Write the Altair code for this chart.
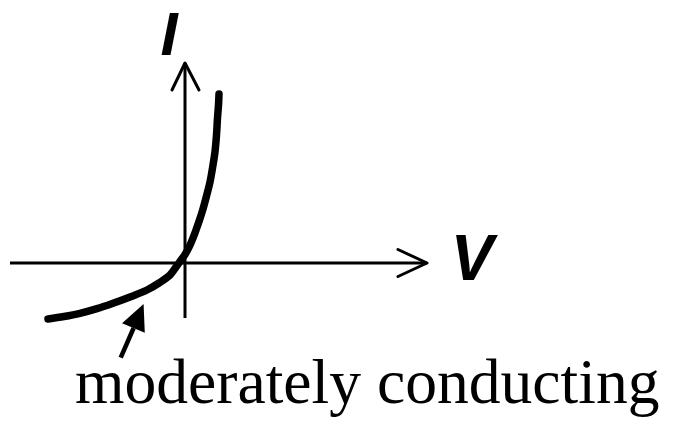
import altair as alt
import pandas as pd

# I-V curve (arbitrary units)
curve_v = [-13.7, -12.1, -10.5, -8.8, -7.2, -5.5, -3.8, -2.6, -1.5, -0.9, -0.4,
           0.0, 0.43, 0.8, 1.1, 1.45, 1.77, 2.15, 2.5, 2.8, 3.0, 3.15, 3.25, 3.35, 3.4]
curve_i = [-5.6, -5.35, -5.03, -4.57, -4.03, -3.4, -2.7, -2.0, -1.2, -0.4, 0.3,
           0.85, 1.63, 2.5, 3.3, 4.3, 5.3, 6.7, 8.1, 9.8, 11.13, 12.8, 14.5, 15.8, 16.9]

# axes extents
h_axis_v = [-17.5, 24.2]
v_axis_i = [-5.5, 20.0]
# arrowheads (chevrons)
h_head_v = [21.3, 24.2, 21.3]
h_head_i = [1.35, 0.0, -1.35]
v_head_v = [-1.3, 0.0, 1.4]
v_head_i = [17.3, 20.0, 17.3]

# annotation arrow
shaft_v = [-6.43, -5.14]
shaft_i = [-9.47, -6.5]
head_v = [-4.65]
head_i = [-5.3]

# labels
i_label = ["I"]
i_label_v = [-1.6]
i_label_i = [20.8]
v_label = ["V"]
v_label_v = [28.7]
v_label_i = [-1.7]
note_text = ["moderately conducting"]
note_v = [-11.0]
note_i = [-14.0]

xs = alt.Scale(domain=[-17.7, 48.0], nice=False, zero=False)
ys = alt.Scale(domain=[-15.5, 24.7], nice=False, zero=False)

def X():
    return alt.X("v:Q", scale=xs, axis=None)

def Y():
    return alt.Y("i:Q", scale=ys, axis=None)

axes_rows = []
for k, v in enumerate(h_axis_v):
    axes_rows.append({"g": "h", "o": k, "v": v, "i": 0.0})
for k, i in enumerate(v_axis_i):
    axes_rows.append({"g": "vv", "o": k, "v": 0.0, "i": i})
axes_df = pd.DataFrame(axes_rows)

heads_rows = []
for k, (v, i) in enumerate(zip(h_head_v, h_head_i)):
    heads_rows.append({"g": "h", "o": k, "v": v, "i": i})
for k, (v, i) in enumerate(zip(v_head_v, v_head_i)):
    heads_rows.append({"g": "vv", "o": k, "v": v, "i": i})
heads_df = pd.DataFrame(heads_rows)

curve_df = pd.DataFrame({"v": curve_v, "i": curve_i, "o": list(range(len(curve_v)))})
shaft_df = pd.DataFrame({"v": shaft_v, "i": shaft_i, "o": [0, 1]})
head_df = pd.DataFrame({"v": head_v, "i": head_i})
ilab_df = pd.DataFrame({"v": i_label_v, "i": i_label_i, "t": i_label})
vlab_df = pd.DataFrame({"v": v_label_v, "i": v_label_i, "t": v_label})
note_df = pd.DataFrame({"v": note_v, "i": note_i, "t": note_text})

axes = alt.Chart(axes_df).mark_line(color="black", strokeWidth=3).encode(
    x=X(), y=Y(), detail="g:N", order="o:Q")
heads = alt.Chart(heads_df).mark_line(
    color="black", strokeWidth=3, strokeCap="round", strokeJoin="round").encode(
    x=X(), y=Y(), detail="g:N", order="o:Q")
curve = alt.Chart(curve_df).mark_line(
    color="black", strokeWidth=7.5, strokeCap="round", interpolate="catmull-rom").encode(
    x=X(), y=Y(), order="o:Q")
shaft = alt.Chart(shaft_df).mark_line(color="black", strokeWidth=4.5).encode(
    x=X(), y=Y(), order="o:Q")
head = alt.Chart(head_df).mark_point(
    shape="M0,-1L-0.95,1L0.95,1Z", size=676, filled=True, color="black",
    opacity=1, angle=23, strokeWidth=0).encode(x=X(), y=Y())
ilab = alt.Chart(ilab_df).mark_text(
    font="Liberation Sans", fontSize=62, fontWeight="bold", fontStyle="italic",
    align="center", baseline="alphabetic", color="black").encode(
    x=X(), y=Y(), text="t:N")
vlab = alt.Chart(vlab_df).mark_text(
    font="Liberation Sans", fontSize=64, fontWeight="bold", fontStyle="italic",
    align="center", baseline="alphabetic", color="black").encode(
    x=X(), y=Y(), text="t:N")
note = alt.Chart(note_df).mark_text(
    font="Liberation Serif", fontSize=63.6, align="left", baseline="alphabetic",
    color="black").encode(x=X(), y=Y(), text="t:N")

chart = alt.layer(axes, heads, curve, shaft, head, ilab, vlab, note).properties(
    width=657, height=402,
    padding={"top": 8, "left": 0, "right": 0, "bottom": 0},
    autosize=alt.AutoSizeParams(type="none"),
    background="white",
).configure_view(strokeWidth=0)

chart.save("out.html", embed_options={"renderer": "svg", "actions": False})
